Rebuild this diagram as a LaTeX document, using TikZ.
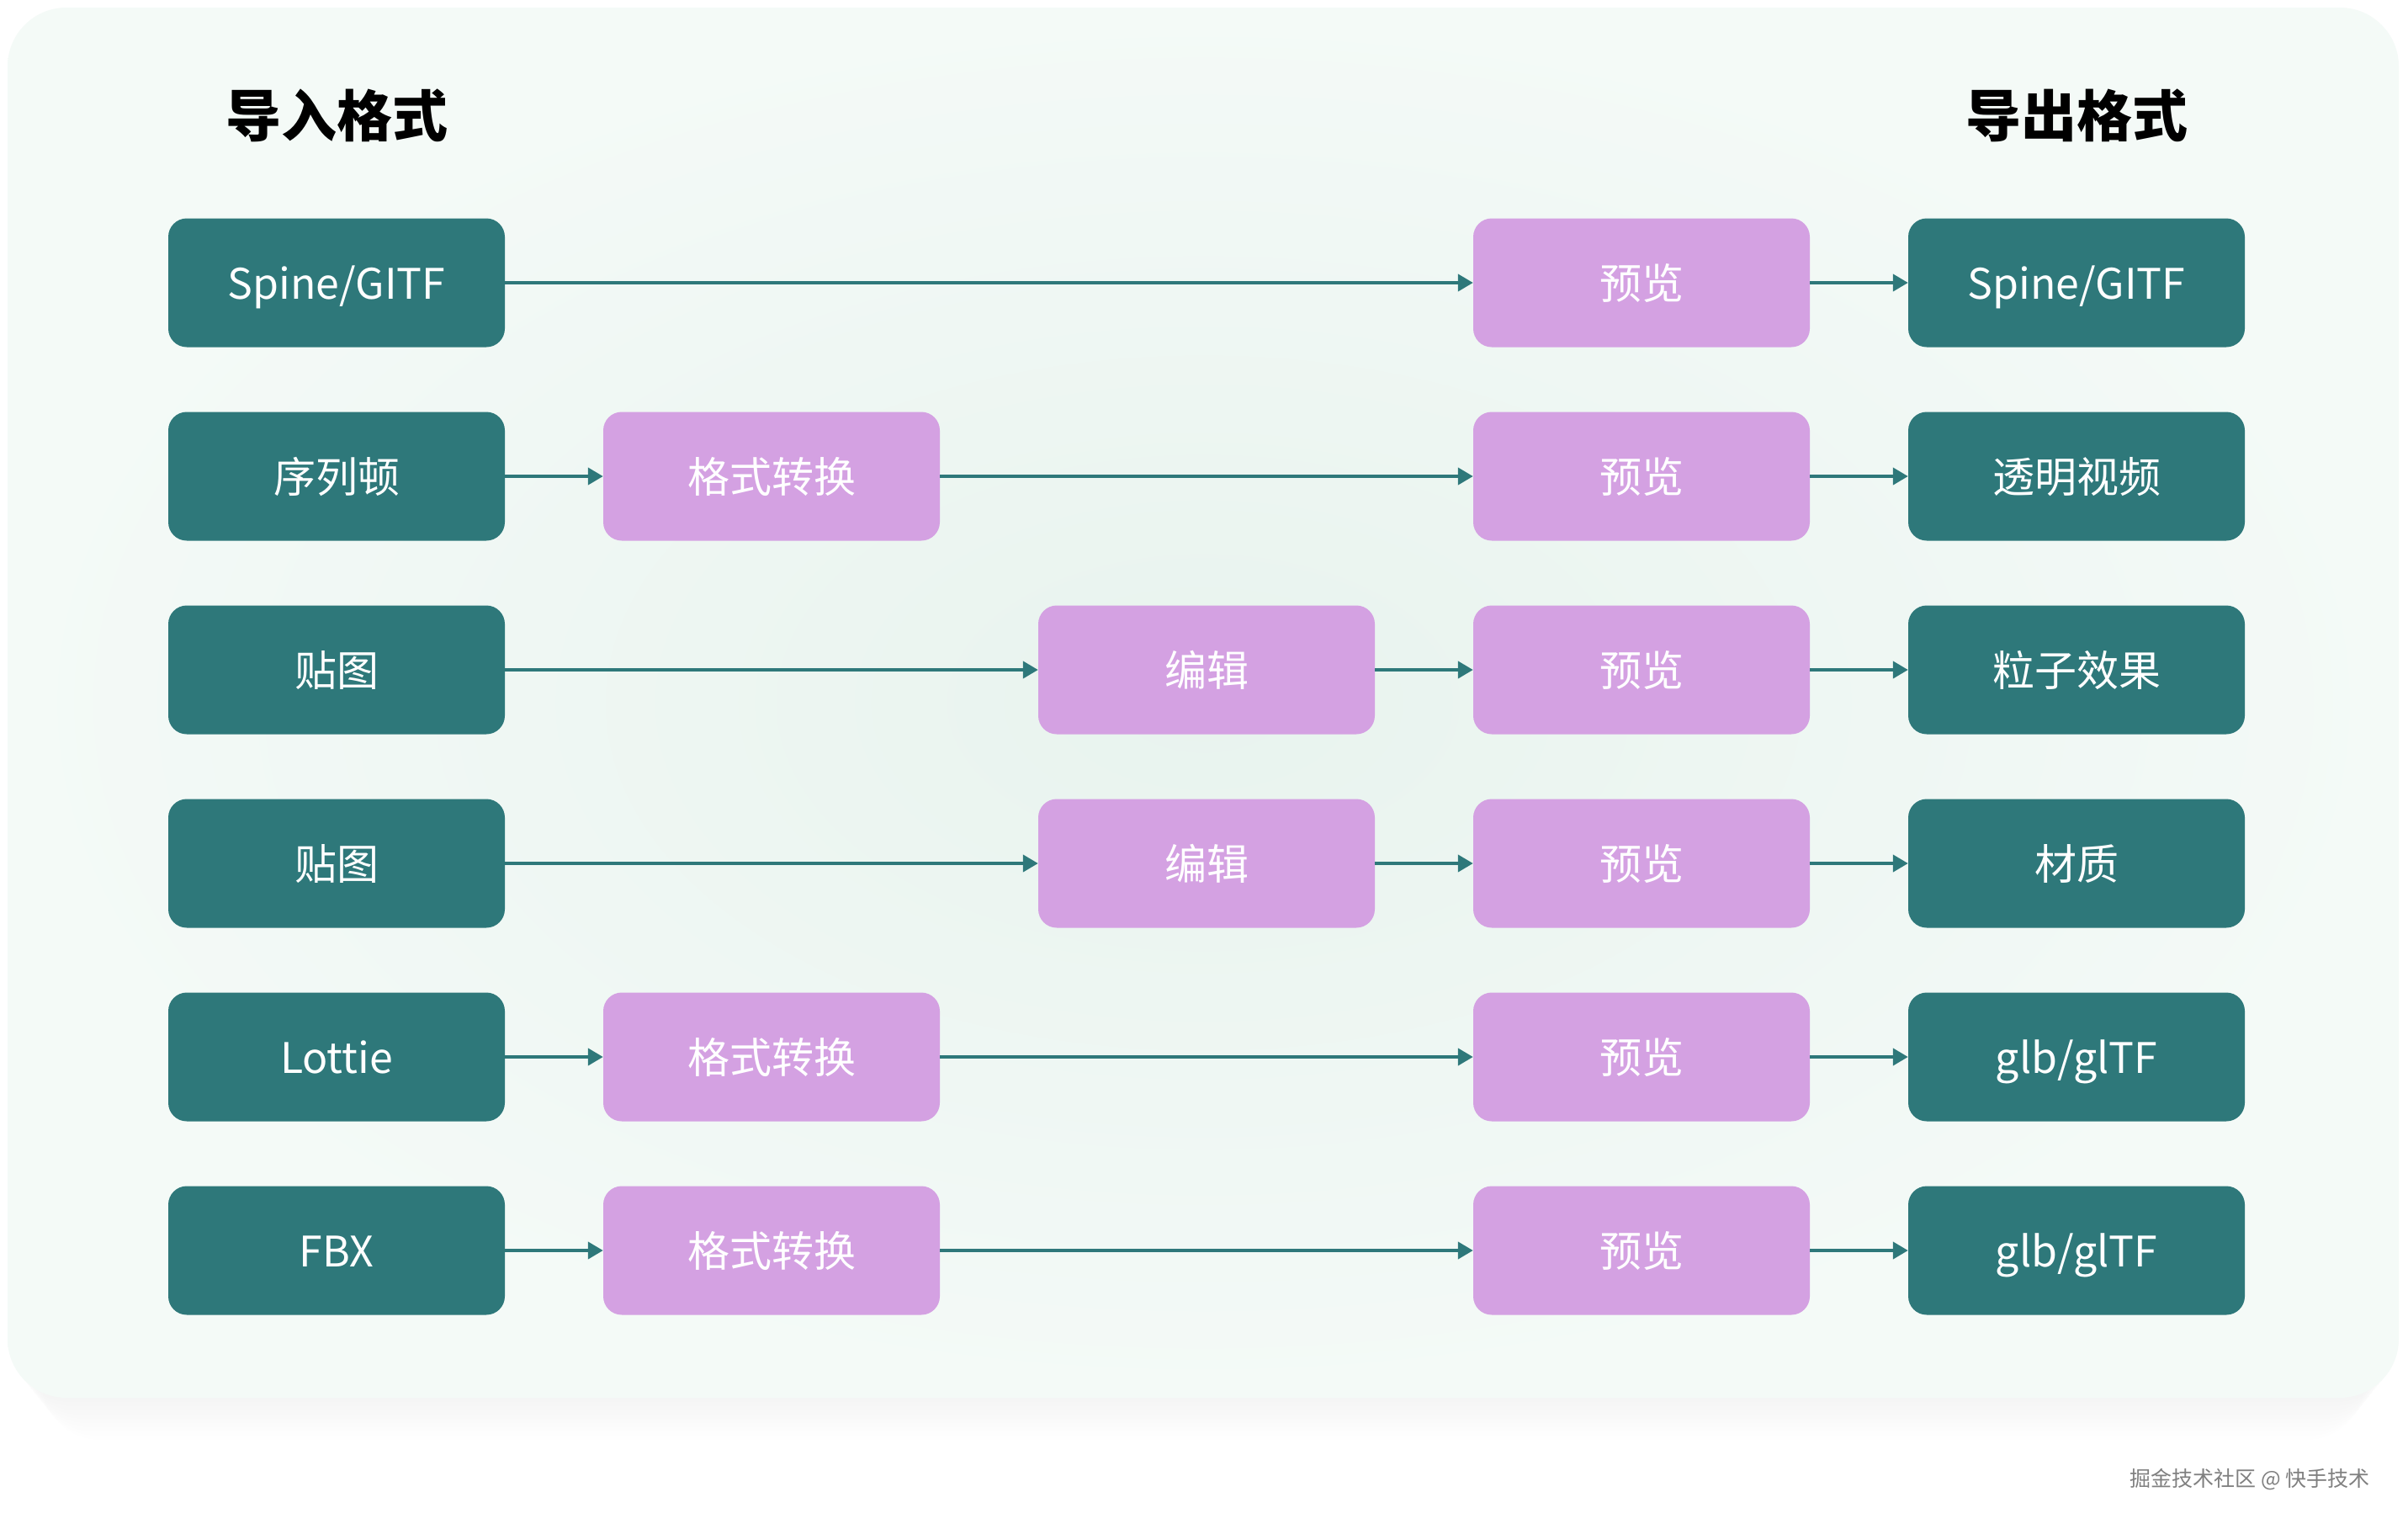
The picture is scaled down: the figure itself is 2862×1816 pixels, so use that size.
\documentclass[tikz,border=0pt]{standalone}
\usepackage{fontspec}
\setmainfont{Noto Sans CJK SC}
\usetikzlibrary{arrows.meta}
\definecolor{tealbox}{RGB}{46,120,122}
\definecolor{pinkbox}{RGB}{212,161,226}
\definecolor{mintin}{RGB}{232,243,238}
\definecolor{mintout}{RGB}{244,250,247}
\definecolor{wmgray}{RGB}{128,128,128}
\begin{document}
\begin{tikzpicture}[x=1pt,y=-1pt,
  srcbox/.style={fill=tealbox, rounded corners=22pt, minimum width=400pt, minimum height=153pt, text=white, font=\fontsize{50}{60}\selectfont, inner sep=0pt, text height=44pt, text depth=6pt},
  stepbox/.style={srcbox, fill=pinkbox},
  flow/.style={draw=tealbox, line width=4pt, -{Triangle[length=18pt,width=20pt]}},
  titletext/.style={font=\fontsize{66}{76}\selectfont\bfseries, text=black},
  wmtext/.style={font=\fontsize{25}{30}\selectfont, text=wmgray}
]
\useasboundingbox (0,0) rectangle (2862,1816);
\fill[white] (0,0) rectangle (2862,1816);
% soft shadow
\foreach \i in {1,...,10} {
  \fill[tealbox, opacity=0.004, rounded corners=70pt] (9+4*\i,9+5*\i) rectangle (2851-4*\i,1661+5*\i);
}
\shade[rounded corners=70pt, inner color=mintin, outer color=mintout] (9,9) rectangle (2851,1661);

% titles
\node[titletext] (tin) at (400,137) {导入格式};
\node[titletext] (tout) at (2468,137) {导出格式};

% row 1
\node[srcbox] (s1) at (400,336) {Spine/GITF};
\node[stepbox] (p1) at (1951,336) {预览};
\node[srcbox] (o1) at (2468,336) {Spine/GITF};
% row 2
\node[srcbox] (s2) at (400,566) {序列顿};
\node[stepbox] (c2) at (917,566) {格式转换};
\node[stepbox] (p2) at (1951,566) {预览};
\node[srcbox] (o2) at (2468,566) {透明视频};
% row 3
\node[srcbox] (s3) at (400,796) {贴图};
\node[stepbox] (e3) at (1434,796) {编辑};
\node[stepbox] (p3) at (1951,796) {预览};
\node[srcbox] (o3) at (2468,796) {粒子效果};
% row 4
\node[srcbox] (s4) at (400,1026) {贴图};
\node[stepbox] (e4) at (1434,1026) {编辑};
\node[stepbox] (p4) at (1951,1026) {预览};
\node[srcbox] (o4) at (2468,1026) {材质};
% row 5
\node[srcbox] (s5) at (400,1256) {Lottie};
\node[stepbox] (c5) at (917,1256) {格式转换};
\node[stepbox] (p5) at (1951,1256) {预览};
\node[srcbox] (o5) at (2468,1256) {glb/glTF};
% row 6
\node[srcbox] (s6) at (400,1486) {FBX};
\node[stepbox] (c6) at (917,1486) {格式转换};
\node[stepbox] (p6) at (1951,1486) {预览};
\node[srcbox] (o6) at (2468,1486) {glb/glTF};

% connectors
\draw[flow] (s1) -- (p1);
\draw[flow] (p1) -- (o1);
\draw[flow] (s2) -- (c2);
\draw[flow] (c2) -- (p2);
\draw[flow] (p2) -- (o2);
\draw[flow] (s3) -- (e3);
\draw[flow] (e3) -- (p3);
\draw[flow] (p3) -- (o3);
\draw[flow] (s4) -- (e4);
\draw[flow] (e4) -- (p4);
\draw[flow] (p4) -- (o4);
\draw[flow] (s5) -- (c5);
\draw[flow] (c5) -- (p5);
\draw[flow] (p5) -- (o5);
\draw[flow] (s6) -- (c6);
\draw[flow] (c6) -- (p6);
\draw[flow] (p6) -- (o6);

% watermark
\node[wmtext, anchor=east] (wm) at (2820,1758) {掘金技术社区 @ 快手技术};
\end{tikzpicture}
\end{document}
